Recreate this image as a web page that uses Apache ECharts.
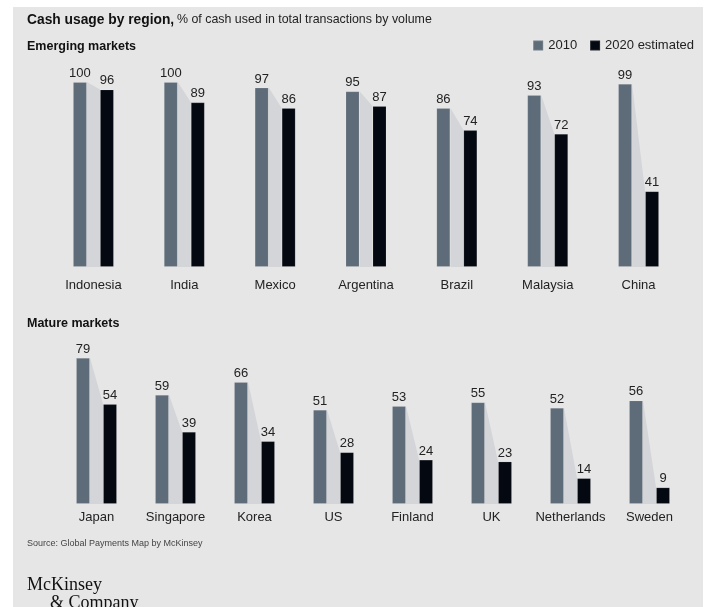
<!DOCTYPE html>
<html>
<head>
<meta charset="utf-8">
<script src="https://cdn.jsdelivr.net/npm/echarts@6/dist/echarts.min.js"></script>
<style>
html,body{margin:0;padding:0;background:#fff;}
#c{width:709px;height:607px;}
</style>
</head>
<body>
<div id="c"></div>
<script>
const emergingCats = ['Indonesia','India','Mexico','Argentina','Brazil','Malaysia','China'];
const emerging2010 = [100,100,97,95,86,93,99];
const emerging2020 = [96,89,86,87,74,72,41];
const matureCats = ['Japan','Singapore','Korea','US','Finland','UK','Netherlands','Sweden'];
const mature2010 = [79,59,66,51,53,55,52,56];
const mature2020 = [54,39,34,28,24,23,14,9];
const seriesNames = ['2010','2020 estimated'];

const C2010 = '#5e6b78';
const C2020 = '#040810';
const CONN = '#d3d5d8';
const FONT = '"Liberation Sans", Arial, sans-serif';
const BW = 14, GAP = 13;

const chart = echarts.init(document.getElementById('c'), null, {renderer:'canvas'});

function connector(params, api){
  const i = api.value(0);
  const p1 = api.coord([i, api.value(1)]);
  const p2 = api.coord([i, api.value(2)]);
  const p0 = api.coord([i, 0]);
  const cx = p0[0];
  const xl = cx - GAP/2, xr = cx + GAP/2;
  return {
    type:'polygon',
    shape:{points:[[xl,p1[1]],[xr,p2[1]],[xr,p0[1]],[xl,p0[1]]]},
    style:{fill:CONN}
  };
}

const labelStyle = {show:true, position:'top', distance:2, color:'#222', fontSize:13, fontFamily:FONT};

function barSeries(name, data, idx, color){
  return {
    type:'bar', name:name, data:data, xAxisIndex:idx, yAxisIndex:idx,
    barWidth:BW, barGap:(GAP/BW*100)+'%',
    itemStyle:{color:color, borderColor:'rgba(255,255,255,0.12)', borderWidth:1},
    label:labelStyle, z:3
  };
}

const option = {
  backgroundColor:'#ffffff',
  animation:false,
  textStyle:{fontFamily:FONT},
  graphic:[
    {type:'rect', shape:{x:13,y:7,width:690,height:600}, style:{fill:'#e6e6e6'}, z:-10, silent:true},
    {type:'text', left:27, top:13, style:{text:'Cash usage by region,', font:'bold 13.8px '+FONT, fill:'#111'}},
    {type:'text', left:177, top:14, style:{text:'% of cash used in total transactions by volume', font:'12.4px '+FONT, fill:'#222'}},
    {type:'text', left:27, top:40, style:{text:'Emerging markets', font:'bold 12.5px '+FONT, fill:'#111'}},
    {type:'text', left:27, top:317, style:{text:'Mature markets', font:'bold 12.5px '+FONT, fill:'#111'}},
    {type:'text', left:27, top:539, style:{text:'Source: Global Payments Map by McKinsey', font:'9px '+FONT, fill:'#444'}},
    {type:'text', left:27, top:576, style:{text:'McKinsey', font:'18px "Liberation Serif", "DejaVu Serif", serif', fill:'#111'}},
    {type:'text', left:50, top:594, style:{text:'& Company', font:'18px "Liberation Serif", "DejaVu Serif", serif', fill:'#111'}}
  ],
  legend:{
    data:seriesNames, right:10, top:34, itemWidth:10, itemHeight:10, itemGap:12, icon:'rect',
    textStyle:{fontSize:13, color:'#222', fontFamily:FONT}
  },
  grid:[
    {left:48, width:636, top:82, height:185},
    {left:57, width:632, top:319, height:185}
  ],
  xAxis:[
    {type:'category', gridIndex:0, data:emergingCats, axisLine:{show:false}, axisTick:{show:false},
     axisLabel:{margin:12, interval:0, fontSize:13, color:'#222', fontFamily:FONT}},
    {type:'category', gridIndex:1, data:matureCats, axisLine:{show:false}, axisTick:{show:false},
     axisLabel:{margin:7, interval:0, fontSize:13, color:'#222', fontFamily:FONT}}
  ],
  yAxis:[
    {type:'value', gridIndex:0, min:0, max:100, show:false},
    {type:'value', gridIndex:1, min:0, max:100, show:false}
  ],
  series:[
    barSeries(seriesNames[0], emerging2010, 0, C2010),
    barSeries(seriesNames[1], emerging2020, 0, C2020),
    barSeries(seriesNames[0], mature2010, 1, C2010),
    barSeries(seriesNames[1], mature2020, 1, C2020),
    {type:'custom', xAxisIndex:0, yAxisIndex:0, renderItem:connector, z:1,
     data:emergingCats.map((c,i)=>[i, emerging2010[i], emerging2020[i]]), encode:{x:0,y:[1,2]}},
    {type:'custom', xAxisIndex:1, yAxisIndex:1, renderItem:connector, z:1,
     data:matureCats.map((c,i)=>[i, mature2010[i], mature2020[i]]), encode:{x:0,y:[1,2]}}
  ]
};
chart.setOption(option);
</script>
</body>
</html>
